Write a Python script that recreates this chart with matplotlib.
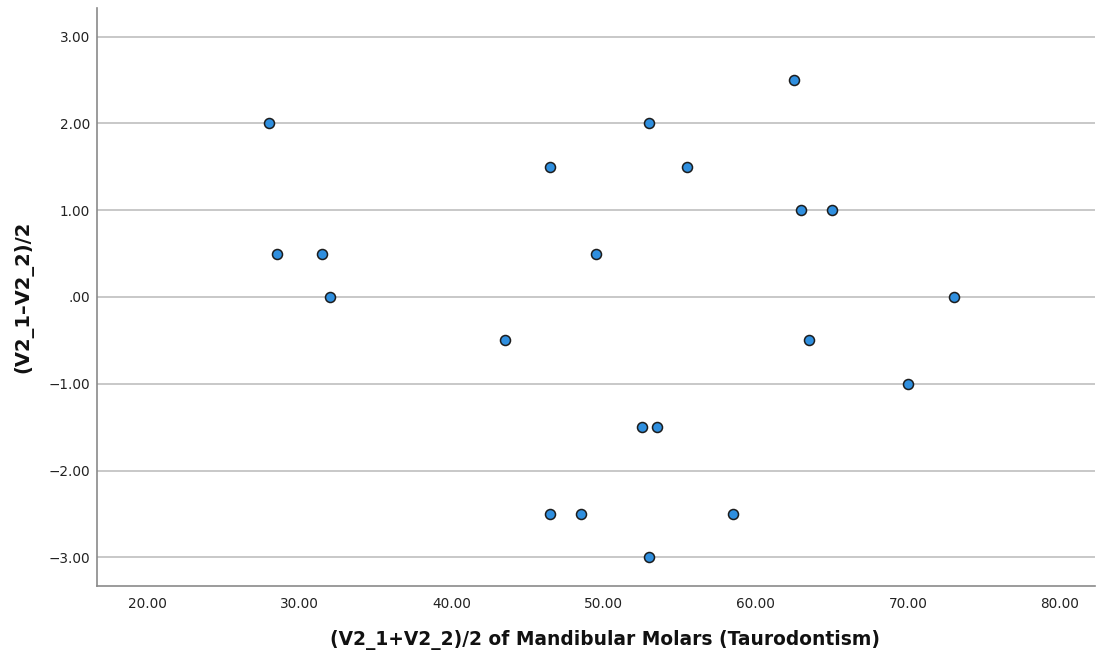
import matplotlib
matplotlib.use("Agg")
import matplotlib.pyplot as plt
from matplotlib.ticker import FuncFormatter

# Bland-Altman style data: mean of two measurements vs. their difference
mean_vals = [28.0, 28.5, 31.5, 32.0, 43.5, 46.5, 46.5, 48.5, 49.5, 52.5,
             53.5, 53.0, 53.0, 55.5, 58.5, 62.5, 63.0, 63.5, 65.0, 70.0, 73.0]
diff_vals = [2.0, 0.5, 0.5, 0.0, -0.5, 1.5, -2.5, -2.5, 0.5, -1.5,
             -1.5, 2.0, -3.0, 1.5, -2.5, 2.5, 1.0, -0.5, 1.0, -1.0, 0.0]

x_ticks = [20, 30, 40, 50, 60, 70, 80]
y_ticks = [-3, -2, -1, 0, 1, 2, 3]

x_label = "(V2_1+V2_2)/2 of Mandibular Molars (Taurodontism)"
y_label = "(V2_1\u2013V2_2)/2"

plt.rcParams['font.family'] = ['DejaVu Sans']

fig = plt.figure(figsize=(11.03, 6.56), dpi=100)
ax = fig.add_axes([97 / 1103, 70 / 656, (1095 - 97) / 1103, (586 - 8) / 656])

ax.set_xlim(16.7, 82.3)
ax.set_ylim(-3.33, 3.33)

ax.set_xticks(x_ticks)
ax.set_yticks(y_ticks)


def fmt_val(v, _pos=None):
    s = f"{v:.2f}"
    if s.startswith("0."):
        s = s[1:]
    elif s.startswith("-0."):
        s = "-" + s[2:]
    return s.replace("-", "\u2212")


ax.xaxis.set_major_formatter(FuncFormatter(fmt_val))
ax.yaxis.set_major_formatter(FuncFormatter(fmt_val))

ax.grid(axis='y', color='#c8c8c8', linewidth=1.4, zorder=0)
ax.set_axisbelow(True)

for side in ('top', 'right'):
    ax.spines[side].set_visible(False)
for side in ('left', 'bottom'):
    ax.spines[side].set_color('#8a8a8a')
    ax.spines[side].set_linewidth(1.2)

ax.tick_params(axis='both', length=0, labelsize=9.8, colors='#222222')
ax.tick_params(axis='y', pad=5)
ax.tick_params(axis='x', pad=8)

ax.scatter(mean_vals, diff_vals, s=52, c='#2f8fdf', edgecolors='#1c1c1c',
           linewidths=1.1, zorder=3)

ax.set_xlabel(x_label, fontsize=13.4, fontweight='bold', color='#111111')
ax.xaxis.label.set_verticalalignment('center')
ax.xaxis.set_label_coords(0.509, -0.0934)
ax.set_ylabel(y_label, fontsize=14, fontweight='bold', color='#111111', labelpad=11)

fig.savefig("out.png", dpi=100, facecolor='white')
